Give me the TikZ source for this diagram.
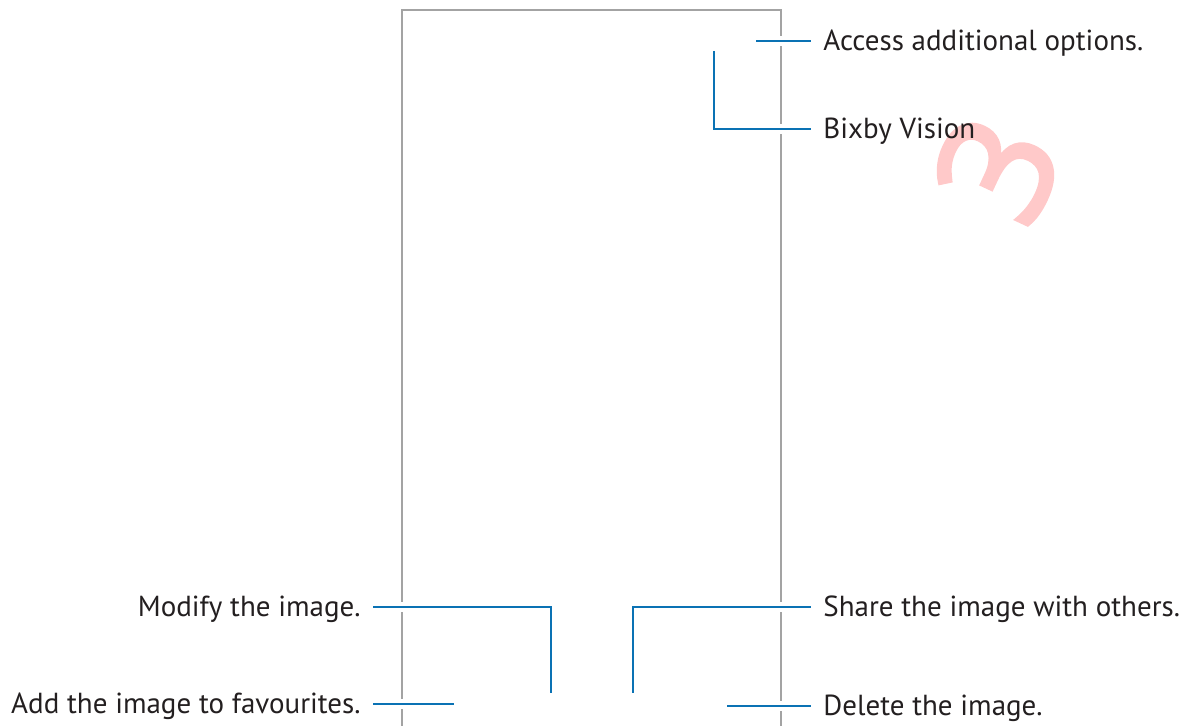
\documentclass[tikz,border=0pt]{standalone}
\usepackage{fontspec}
\setmainfont{PT Sans}
\newfontfamily\markfont[FakeBold=2.5]{Open Sans}
\usepackage{tikz}
\usetikzlibrary{positioning}
\definecolor{GalBlue}{HTML}{0A72B4}
\definecolor{GalGray}{HTML}{A3A3A3}
\definecolor{GalInk}{HTML}{231F20}
\definecolor{GalPink}{HTML}{FFC9C9}

\begin{document}
\begin{tikzpicture}[
x=0.5pt, y=-0.5pt,
every node/.style={font=\fontsize{14.5}{16}\selectfont, text=GalInk},
lblright/.style={anchor=west, inner xsep=6pt, inner ysep=0pt, text height=9.5pt, text depth=0pt},
lblleft/.style={anchor=east, inner xsep=6pt, inner ysep=0pt, text height=9.5pt, text depth=0pt},
screen/.style={draw=GalGray, line width=0.7pt},
callout/.style={draw=GalBlue, line width=1.25pt, preaction={draw=white, line width=5pt}}
]
\useasboundingbox (0,0) rectangle (1185,726);
\node[text=GalPink, font=\markfont\fontsize{78}{78}\selectfont, rotate=65] (mark) at (997,169) {3};
\draw[screen] (402,726) -- (402,10) -- (781,10) -- (781,726);
% labels
\node[lblright] (acc) at (811,41) {Access additional options.};
\node[lblright] (bix) at (811,129) {Bixby Vision};
\node[lblleft] (mod) at (373,607) {Modify the image.};
\node[lblright] (shr) at (811,607) {Share the image with others.};
\node[lblleft] (fav) at (373,704) {Add the image to favourites.};
\node[lblright] (del) at (811,706) {Delete the image.};
% icon ends
\coordinate (accend) at (756,41);
\coordinate (bixend) at (714,51);
\coordinate (modend) at (551,693);
\coordinate (shrend) at (633,693);
\coordinate (favend) at (454,704);
\coordinate (delend) at (727,706);
\draw[callout] (accend) -- (acc.west);
\draw[callout] (bixend) |- (bix.west);
\draw[callout] (mod.east) -| (modend);
\draw[callout] (shrend) |- (shr.west);
\draw[callout] (fav.east) -- (favend);
\draw[callout] (delend) -- (del.west);
\end{tikzpicture}
\end{document}
